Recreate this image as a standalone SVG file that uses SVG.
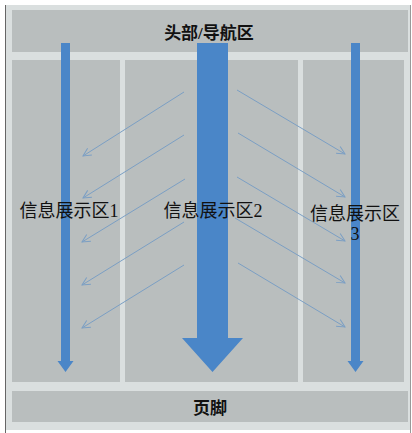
<svg xmlns="http://www.w3.org/2000/svg" width="412" height="433" viewBox="0 0 412 433">
<defs>
<style>
.box{fill:#b9bebe}
.blue{fill:#4a86c8}
.diag{stroke:#7b9fc4;stroke-width:1;fill:none;marker-end:url(#vh)}
.t{font-family:"Liberation Serif","Noto Sans CJK SC",serif;font-size:18px;fill:#111}
.tb{font-family:"Liberation Serif","Noto Sans CJK SC",serif;font-size:17px;fill:#111;font-weight:bold}
</style>
<marker id="vh" markerWidth="10" markerHeight="10" refX="9" refY="5" orient="auto" markerUnits="userSpaceOnUse">
<path d="M1,1 L9,5 L1,9" fill="none" stroke="#7b9fc4" stroke-width="1"/>
</marker>
</defs>
<rect x="0" y="0" width="412" height="433" fill="#ffffff"/>
<rect x="5" y="5" width="405" height="425" fill="#dadfdf"/>
<line x1="5.5" y1="5" x2="5.5" y2="433" stroke="#666" stroke-width="1"/>
<line x1="410.5" y1="5" x2="410.5" y2="433" stroke="#999" stroke-width="1"/>
<g id="header"><rect class="box" x="12" y="10" width="396" height="42"/></g>
<g id="col1"><rect class="box" x="12" y="60" width="108" height="322"/></g>
<g id="col2"><rect class="box" x="125" y="60" width="173" height="322"/></g>
<g id="col3"><rect class="box" x="303" y="60" width="101" height="322"/></g>
<g id="footer"><rect class="box" x="12" y="391" width="396" height="31"/></g>
<g id="flows">
<path class="blue" d="M61,43 H70 V361 H73.5 L65.5,372 L57.5,361 H61 Z"/>
<path class="blue" d="M197,43 H228 V338 H243 L212.5,372 L182,338 H197 Z"/>
<path class="blue" d="M351,43 H360 V361 H363.5 L355.5,372 L347.5,361 H351 Z"/>
</g>
<g id="connectors">
<line class="diag" x1="184" y1="92" x2="83" y2="156"/>
<line class="diag" x1="184" y1="135" x2="83" y2="198"/>
<line class="diag" x1="185" y1="179" x2="82" y2="242"/>
<line class="diag" x1="184" y1="222" x2="82" y2="285"/>
<line class="diag" x1="184" y1="265" x2="82" y2="328"/>
<line class="diag" x1="237" y1="90" x2="345" y2="154"/>
<line class="diag" x1="238" y1="133" x2="345" y2="197"/>
<line class="diag" x1="237" y1="177" x2="345" y2="241"/>
<line class="diag" x1="235" y1="218" x2="345" y2="283"/>
<line class="diag" x1="238" y1="263" x2="345" y2="327"/>
</g>
<g id="labels">
<text class="tb" x="209" y="39" text-anchor="middle">头部/导航区</text>
<text class="t" x="69" y="217" text-anchor="middle">信息展示区1</text>
<text class="t" x="213" y="217" text-anchor="middle">信息展示区2</text>
<text class="t" x="355" y="220" text-anchor="middle">信息展示区</text>
<text class="t" x="355" y="240" text-anchor="middle">3</text>
<text class="tb" x="210" y="414" text-anchor="middle">页脚</text>
</g>
</svg>
